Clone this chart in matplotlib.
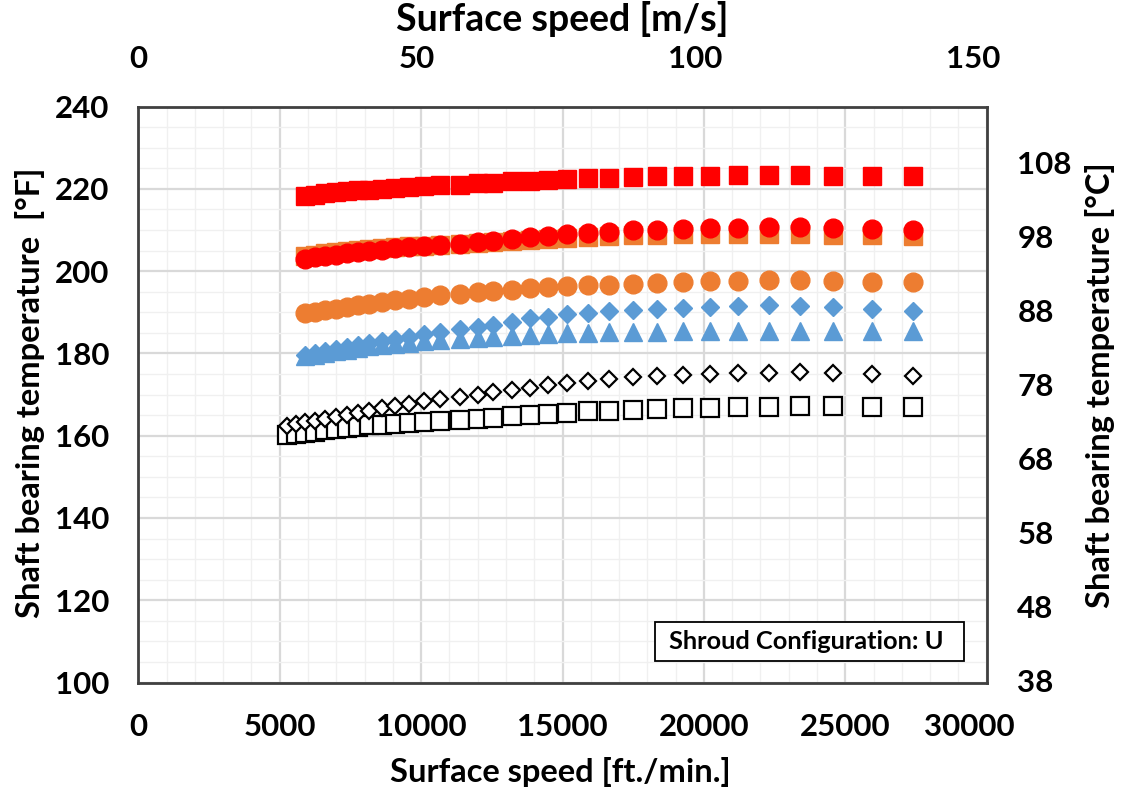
import matplotlib
matplotlib.use('Agg')
import matplotlib.pyplot as plt
from matplotlib.ticker import MultipleLocator, FixedLocator
from matplotlib.patches import Rectangle
from matplotlib.transforms import ScaledTranslation

plt.rcParams['font.family'] = ['Lato', 'DejaVu Sans']
plt.rcParams['font.weight'] = 'bold'

# Surface speed [ft./min.] for the measurement points
speed_all = [5250, 5580, 5900, 6250, 6600, 6990, 7380, 7770, 8160, 8620, 9080,
             9570, 10100, 10670, 11380, 12010, 12540, 13210, 13850, 14490, 15160,
             15900, 16640, 17490, 18340, 19260, 20220, 21210, 22300, 23400, 24570,
             25940, 27390]
speed_hot = speed_all[2:]

# Shaft bearing temperature [°F]
red_sq = [218.3, 218.6, 218.9, 219.2, 219.4, 219.6, 219.8, 220.0, 220.2, 220.4,
          220.6, 220.8, 221.0, 221.3, 221.5, 221.8, 222.0, 222.2, 222.4, 222.6,
          222.7, 222.8, 223.0, 223.0, 223.2, 223.4, 223.4, 223.4, 223.2, 223.2, 223.0]
orange_sq = [203.7, 204.0, 204.3, 204.6, 204.9, 205.2, 205.4, 205.6, 205.8, 206.0,
             206.2, 206.4, 206.6, 206.8, 207.0, 207.2, 207.5, 207.8, 208.1, 208.3,
             208.5, 208.7, 208.8, 208.9, 208.9, 208.9, 208.9, 208.9, 208.8, 208.7, 208.6]
red_circ = [202.9, 203.3, 203.7, 204.0, 204.3, 204.6, 204.9, 205.2, 205.5, 205.8,
            206.1, 206.4, 206.7, 207.0, 207.4, 207.8, 208.2, 208.6, 209.0, 209.3,
            209.6, 209.9, 210.1, 210.3, 210.5, 210.5, 210.7, 210.7, 210.5, 210.3, 210.1]
orange_circ = [189.7, 190.1, 190.5, 190.9, 191.3, 191.7, 192.1, 192.5, 192.9, 193.3,
               193.7, 194.1, 194.5, 194.9, 195.2, 195.5, 195.8, 196.1, 196.3, 196.5,
               196.7, 196.9, 197.1, 197.3, 197.5, 197.7, 197.8, 197.8, 197.6, 197.4, 197.4]
blue_dia = [179.7, 180.1, 180.5, 181.0, 181.5, 182.0, 182.5, 183.0, 183.5, 184.0,
            184.6, 185.2, 185.8, 186.3, 186.9, 187.7, 188.5, 188.9, 189.6, 189.9,
            190.3, 190.5, 190.8, 191.0, 191.3, 191.5, 191.7, 191.5, 191.3, 190.7, 190.4]
blue_tri = [179.3, 179.7, 180.1, 180.5, 180.9, 181.3, 181.7, 182.0, 182.3, 182.6,
            182.9, 183.2, 183.5, 183.8, 184.0, 184.3, 184.5, 184.7, 184.9, 185.0,
            185.1, 185.2, 185.3, 185.4, 185.5, 185.5, 185.5, 185.5, 185.5, 185.5, 185.5]
black_dia = [162.4, 162.8, 163.2, 163.6, 164.0, 164.5, 165.0, 165.5, 166.0, 166.6,
             167.2, 167.7, 168.3, 168.9, 169.5, 170.0, 170.5, 171.1, 171.7, 172.2,
             172.7, 173.2, 173.7, 174.2, 174.5, 174.7, 175.1, 175.3, 175.2, 175.5,
             175.2, 175.0, 174.6]
black_sq = [160.1, 160.4, 160.7, 161.0, 161.3, 161.6, 161.9, 162.2, 162.5, 162.7,
            162.9, 163.1, 163.3, 163.5, 163.8, 164.1, 164.4, 164.7, 165.0, 165.3,
            165.6, 165.9, 166.1, 166.3, 166.5, 166.7, 166.7, 166.9, 166.9, 167.1,
            167.1, 166.9, 166.9]

x_ticks = [0, 5000, 10000, 15000, 20000, 25000, 30000]
y_ticks = [100, 120, 140, 160, 180, 200, 220, 240]
top_ticks = [0, 50, 100, 150]
right_ticks = [38, 48, 58, 68, 78, 88, 98, 108]

RED = '#FF0000'
ORANGE = '#ED7D31'
BLUE = '#5B9BD5'
TICK_FS = 22.5
LABEL_FS = 23.5

fig = plt.figure(figsize=(11.28, 7.92), dpi=100)
ax = fig.add_axes([138.3/1128, 1-682.5/792, (986.7-138.3)/1128, (682.5-106.5)/792])

ax.plot(speed_all, black_sq, ls='none', marker='s', ms=12.5, mfc='white', mec='black', mew=1.6, zorder=3)
ax.plot(speed_all, black_dia, ls='none', marker='D', ms=8.5, mfc='white', mec='black', mew=1.6, zorder=3)
ax.plot(speed_hot, blue_dia, ls='none', marker='D', ms=9.3, color=BLUE, mec=BLUE, zorder=3)
ax.plot(speed_hot, blue_tri, ls='none', marker='^', ms=13.5, color=BLUE, mec=BLUE, zorder=3)
ax.plot(speed_hot, orange_circ, ls='none', marker='o', ms=13.5, color=ORANGE, mec=ORANGE, zorder=3)
ax.plot(speed_hot, orange_sq, ls='none', marker='s', ms=13.5, color=ORANGE, mec=ORANGE, zorder=3)
ax.plot(speed_hot, red_circ, ls='none', marker='o', ms=13.5, color=RED, mec=RED, zorder=3)
ax.plot(speed_hot, red_sq, ls='none', marker='s', ms=13.5, color=RED, mec=RED, zorder=3)

ax.set_xlim(0, 30000)
ax.set_ylim(100, 240)
ax.xaxis.set_major_locator(FixedLocator(x_ticks))
ax.yaxis.set_major_locator(FixedLocator(y_ticks))
ax.xaxis.set_minor_locator(MultipleLocator(1000))
ax.yaxis.set_minor_locator(MultipleLocator(5))
ax.grid(which='major', color='#D9D9D9', lw=1.6, zorder=0)
ax.grid(which='minor', color='#F0F0F0', lw=1.0, zorder=0)
ax.set_axisbelow(True)
ax.tick_params(which='both', length=0)
ax.tick_params(axis='x', labelsize=TICK_FS, pad=22)
ax.tick_params(axis='y', labelsize=TICK_FS, pad=21)
for s in ax.spines.values():
    s.set_color('#404040')
    s.set_linewidth(2.0)

# last bottom label is pulled inward, as in the original
fig.canvas.draw()
last = ax.get_xticklabels()[-1]
last.set_transform(last.get_transform() + ScaledTranslation(-17/100, 0, fig.dpi_scale_trans))

top = ax.secondary_xaxis('top', functions=(lambda v: v / 196.85, lambda v: v * 196.85))
top.set_xticks(top_ticks)
top.tick_params(length=0, labelsize=TICK_FS, pad=24)
top.spines['top'].set_visible(False)

right = ax.secondary_yaxis('right', functions=(lambda f: (f - 32) / 1.8, lambda c: c * 1.8 + 32))
right.set_yticks(right_ticks)
right.tick_params(length=0, labelsize=TICK_FS, pad=22)
right.spines['right'].set_visible(False)

fig.text(560/1128, 1-772/792, 'Surface speed [ft./min.]', ha='center', va='center', fontsize=LABEL_FS, fontweight='bold')
fig.text(562/1128, 1-19/792, 'Surface speed [m/s]', ha='center', va='center', fontsize=27, fontweight='bold')
fig.text(30/1128, 1-393/792, 'Shaft bearing temperature  [°F]', ha='center', va='center', rotation=90, fontsize=LABEL_FS, fontweight='bold')
fig.text(1100/1128, 1-385/792, 'Shaft bearing temperature [°C]', ha='center', va='center', rotation=90, fontsize=LABEL_FS, fontweight='bold')

ax.add_patch(Rectangle((0.609, 0.0373), 0.364, 0.0677, transform=ax.transAxes,
                       fc='white', ec='black', lw=1.3, zorder=5))
ax.text(0.787, 0.0712, 'Shroud Configuration: U', transform=ax.transAxes, ha='center', va='center',
        fontsize=18.3, fontweight='bold', zorder=6)

fig.savefig('out.png', dpi=100)
